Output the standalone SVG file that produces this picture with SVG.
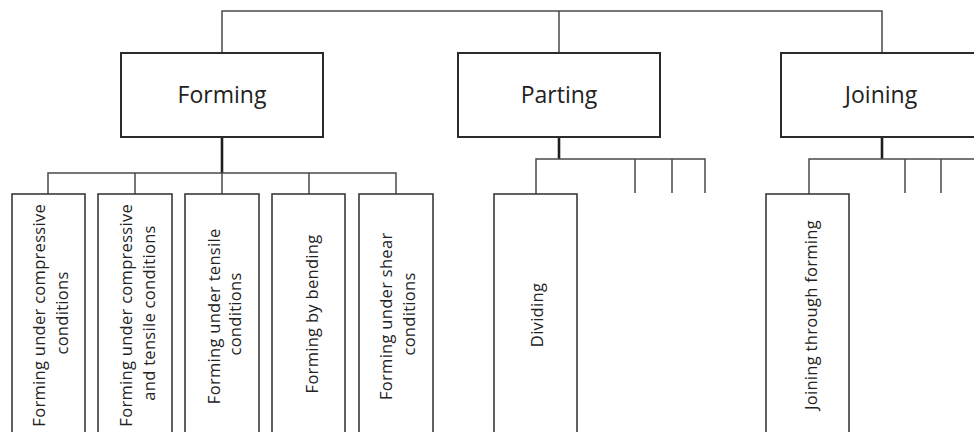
<svg xmlns="http://www.w3.org/2000/svg" width="974" height="432" viewBox="0 0 974 432">
  <style>
    .box { fill: #ffffff; stroke: #2b2b2b; stroke-width: 2; }
    .sub { fill: #ffffff; stroke: #3a3a3a; stroke-width: 1.6; }
    .wire { fill: none; stroke: #4a4a4a; stroke-width: 1.5; }
    .stem { fill: none; stroke: #1e1e1e; stroke-width: 2.6; }
    .head { font-family: "Open Sans", "Noto Sans", sans-serif; font-size: 23px; fill: #222; text-anchor: middle; }
    .lbl { font-family: "Open Sans", "Noto Sans", sans-serif; font-size: 16.5px; letter-spacing: 0.3px; fill: #222; text-anchor: middle; }
  </style>
  <rect width="974" height="432" fill="#ffffff"/>

  <!-- connectors -->
  <g id="connectors">
    <!-- top bar linking the three families -->
    <path class="wire" d="M222 53 V11 H882 V53 M559 11 V53"/>
    <!-- Forming branch -->
    <path class="stem" d="M222 137 V173"/>
    <path class="wire" d="M48 194 V173 H396 V194 M135 173 V194 M309 173 V194 M222 173 V194"/>
    <!-- Parting branch -->
    <path class="stem" d="M559 137 V159"/>
    <path class="wire" d="M536 194 V159 H705 V193 M635 159 V193 M672 159 V193"/>
    <!-- Joining branch -->
    <path class="stem" d="M882 137 V159"/>
    <path class="wire" d="M809 194 V159 H974 M905 159 V193 M941 159 V193"/>
  </g>

  <!-- top level -->
  <g id="forming">
    <rect class="box" x="121" y="53" width="202" height="84"/>
    <text class="head" x="222" y="103">Forming</text>
  </g>
  <g id="parting">
    <rect class="box" x="458" y="53" width="202" height="84"/>
    <text class="head" x="559" y="103">Parting</text>
  </g>
  <g id="joining">
    <rect class="box" x="781" y="53" width="202" height="84"/>
    <text class="head" x="881" y="103">Joining</text>
  </g>

  <!-- Forming sub-processes -->
  <g id="f-compressive">
    <rect class="sub" x="12" y="194" width="73" height="250"/>
    <text class="lbl" transform="translate(45 313) rotate(-90)">
      <tspan x="0" y="0">Forming under compressive</tspan>
      <tspan x="0" y="23">conditions</tspan>
    </text>
  </g>
  <g id="f-compressive-tensile">
    <rect class="sub" x="98" y="194" width="74" height="250"/>
    <text class="lbl" transform="translate(132 313) rotate(-90)">
      <tspan x="0" y="0">Forming under compressive</tspan>
      <tspan x="0" y="23">and tensile conditions</tspan>
    </text>
  </g>
  <g id="f-tensile">
    <rect class="sub" x="185" y="194" width="74" height="250"/>
    <text class="lbl" transform="translate(220 314) rotate(-90)">
      <tspan x="0" y="0">Forming under tensile</tspan>
      <tspan x="0" y="21">conditions</tspan>
    </text>
  </g>
  <g id="f-bending">
    <rect class="sub" x="272" y="194" width="73" height="250"/>
    <text class="lbl" transform="translate(318 314) rotate(-90)">Forming by bending</text>
  </g>
  <g id="f-shear">
    <rect class="sub" x="359" y="194" width="74" height="250"/>
    <text class="lbl" transform="translate(392 314) rotate(-90)">
      <tspan x="0" y="0">Forming under shear</tspan>
      <tspan x="0" y="23">conditions</tspan>
    </text>
  </g>

  <!-- Parting sub-process -->
  <g id="p-dividing">
    <rect class="sub" x="494" y="194" width="83" height="250"/>
    <text class="lbl" transform="translate(543 315) rotate(-90)">Dividing</text>
  </g>

  <!-- Joining sub-process -->
  <g id="j-forming">
    <rect class="sub" x="766" y="194" width="83" height="250"/>
    <text class="lbl" transform="translate(817 315) rotate(-90)">Joining through forming</text>
  </g>
</svg>
